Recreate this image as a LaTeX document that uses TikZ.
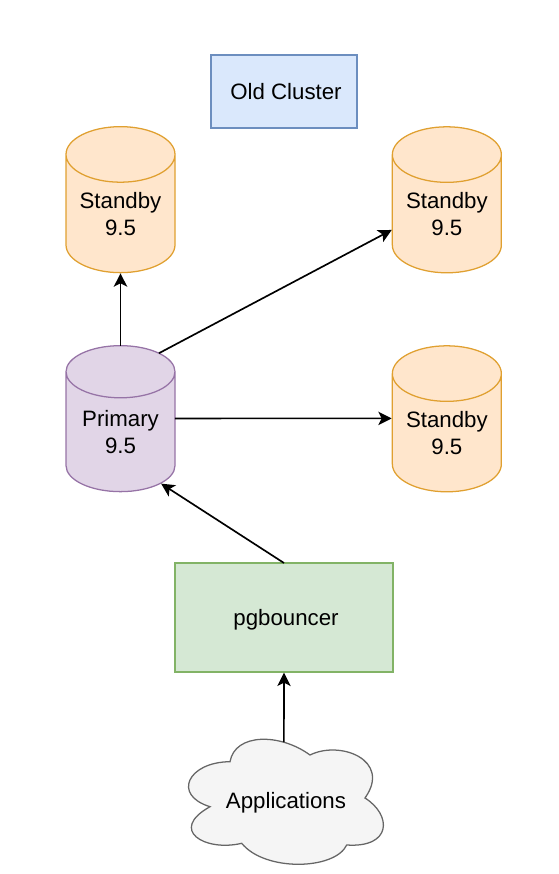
\documentclass[tikz,border=0pt]{standalone}
\usepackage{fontspec}
\setmainfont{Liberation Sans}
\usetikzlibrary{arrows.meta,positioning,shapes.geometric}
\definecolor{oldfill}{HTML}{DAE8FC}
\definecolor{olddraw}{HTML}{6C8EBF}
\definecolor{dbfill}{HTML}{FFE6CC}
\definecolor{dbdraw}{HTML}{E0A030}
\definecolor{prifill}{HTML}{E1D5E7}
\definecolor{pridraw}{HTML}{9673A6}
\definecolor{pgfill}{HTML}{D5E8D4}
\definecolor{pgdraw}{HTML}{82B366}
\definecolor{appfill}{HTML}{F5F5F5}
\definecolor{appdraw}{HTML}{666666}
\begin{document}
\begin{tikzpicture}[x=0.75pt, y=-0.75pt, font=\fontsize{16.7}{20.2}\selectfont, line width=0.95pt]
\tikzset{blk/.style={draw, align=center, inner sep=0pt, outer sep=0pt},
  db/.style={blk, cylinder, shape border rotate=90, shape aspect=0.68, minimum width=81.75pt, minimum height=109.5pt},
  conn/.style={-{Stealth[length=10pt,width=10pt,inset=2.5pt]}, line width=1.25pt, shorten >=0.5pt}}
\useasboundingbox (0,0) rectangle (558,874);
\node[blk, fill=oldfill, draw=olddraw, minimum width=109.5pt, minimum height=54.75pt] (old) at (284,91.5) {\hspace{3pt}Old Cluster};
\node[db, fill=prifill, draw=pridraw] (primary) at (120.5,432) {Primary\\9.5};
\node[db, fill=dbfill, draw=dbdraw, above=54.75pt of primary] (standbya) {Standby\\9.5};
\node[db, fill=dbfill, draw=dbdraw, right=163pt of primary, yshift=-0.75pt] (standbyc) {Standby\\9.5};
\node[db, fill=dbfill, draw=dbdraw, above=54.75pt of standbyc] (standbyb) {Standby\\9.5};
\node[blk, fill=pgfill, draw=pgdraw, minimum width=163.5pt, minimum height=81.75pt, text depth=0pt] (pgb) at (284,617.5) {\hspace{3pt}pgbouncer};
% cloud outline is drawn first, text node sits on top of it
\draw[fill=appfill, draw=appdraw] (230,761.7) .. controls (235,733) and (280,733) .. (310,755)
  .. controls (340,740) and (392,760) .. (365,798)
  .. controls (392,815) and (392,848) .. (346.7,845)
  .. controls (335,870) and (265,872) .. (241.7,843.3)
  .. controls (205,852) and (168,830) .. (210,806.7)
  .. controls (172,795) and (188,762) .. (230,761.7) -- cycle;
\node[blk, draw=none, minimum width=147pt, minimum height=91.5pt] (apps) at (286,803) {Applications};
\draw[conn] (primary.north) -- (standbya.south);
\draw[conn] (primary.64) -- (standbyb.196);
\draw[conn] (primary.14) -- (standbyc.165);
\draw[conn] (pgb.north) -- (primary.-52);
\draw[conn] (apps.92) -- (pgb.south);
\end{tikzpicture}
\end{document}
